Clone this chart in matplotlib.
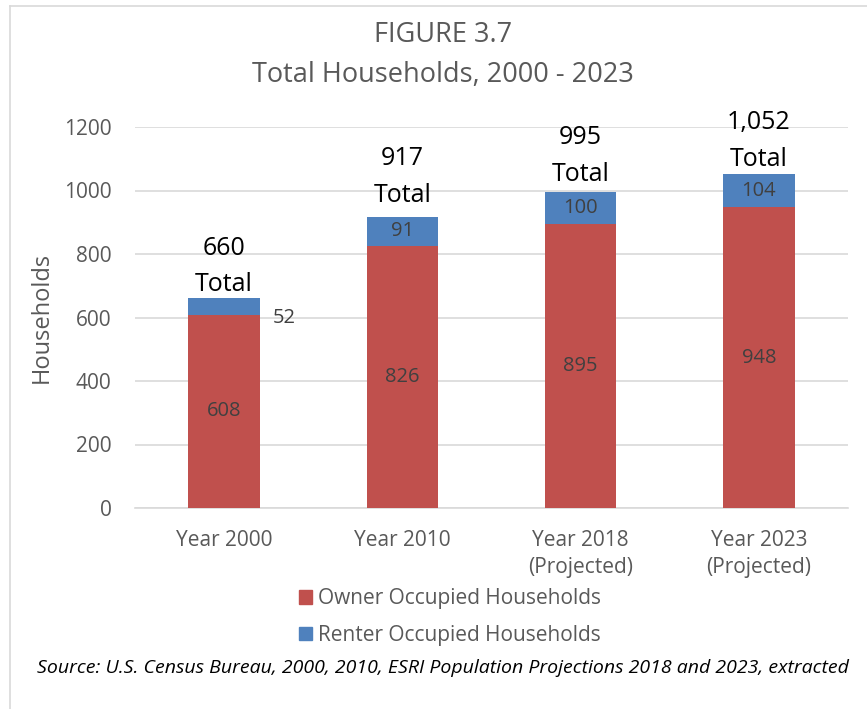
import numpy as np
import matplotlib.pyplot as plt
from matplotlib.patches import Patch

plt.rcParams['font.family'] = ['Open Sans', 'DejaVu Sans']

# data
years = ['Year 2000', 'Year 2010', 'Year 2018\n(Projected)', 'Year 2023\n(Projected)']
owner = [608, 826, 895, 948]
renter = [52, 91, 100, 104]
totals = ['660', '917', '995', '1,052']

# how far (pixels) each "Total" label sits above its bar, as placed in the original
total_gap = [32, 40, 36, 33]

red = '#C0504D'
blue = '#4F81BD'
grey = '#595959'
dark = '#404040'

fig = plt.figure(figsize=(8.67, 7.09), dpi=100)
ax = fig.add_axes([135 / 867, 1 - 508 / 709, 713 / 867, 381 / 709])

x = np.arange(len(years))
ax.bar(x, owner, width=0.4, color=red, zorder=3)
ax.bar(x, renter, width=0.4, bottom=owner, color=blue, zorder=3)

for i in range(len(years)):
    top = owner[i] + renter[i]
    ax.text(x[i], owner[i] / 2, str(owner[i]), ha='center', va='center',
            fontsize=14.5, color=dark, zorder=4)
    if i == 0:
        # thin segment -> label goes to the right of the bar
        ax.annotate(str(renter[i]), (x[i] + 0.2, top), xytext=(13, -20),
                    textcoords='offset pixels', ha='left', va='center',
                    fontsize=14.5, color=dark)
    else:
        ax.text(x[i], owner[i] + renter[i] / 2, str(renter[i]), ha='center',
                va='center', fontsize=14.5, color=dark, zorder=4)
    ax.annotate(totals[i] + '\nTotal', (x[i], top), xytext=(0, total_gap[i]),
                textcoords='offset pixels', ha='center', va='center',
                fontsize=18, color='black', linespacing=1.6)

ax.set_xlim(-0.5, 3.5)
ax.set_ylim(0, 1200)
ax.set_yticks(np.arange(0, 1201, 200))
ax.yaxis.grid(True, color='#D9D9D9', linewidth=1.2, zorder=0)
ax.set_xticks(x)
ax.set_xticklabels(years, fontsize=15, color=grey, linespacing=1.35)
ax.tick_params(axis='both', length=0, labelsize=15, labelcolor=grey)
ax.tick_params(axis='x', pad=16)
ax.tick_params(axis='y', pad=17)
for s in ['top', 'right', 'left']:
    ax.spines[s].set_visible(False)
ax.spines['bottom'].set_color('#D9D9D9')
ax.spines['bottom'].set_linewidth(1.2)
ax.set_ylabel('Households', fontsize=17, color=grey, labelpad=7)

fig.text(443 / 867, 1 - 35 / 709, 'FIGURE 3.7', ha='center', va='center',
         fontsize=19.5, color=grey)
fig.text(443 / 867, 1 - 75 / 709, 'Total Households, 2000 - 2023', ha='center',
         va='center', fontsize=19.5, color=grey)

handles = [Patch(color=red, label='Owner Occupied Households'),
           Patch(color=blue, label='Renter Occupied Households')]
fig.legend(handles=handles, loc='center', bbox_to_anchor=(450 / 867, 1 - 617 / 709),
           frameon=False, fontsize=15, labelcolor=grey, handlelength=0.65,
           handleheight=0.65, handletextpad=0.3, labelspacing=0.75)

fig.text(443 / 867, 1 - 668 / 709,
         'Source: U.S. Census Bureau, 2000, 2010, ESRI Population Projections 2018 and 2023, extracted',
         ha='center', va='center', fontsize=14, style='italic', color='black')

# chart border
fig.add_artist(plt.Line2D([10 / 867, 10 / 867], [0, 1 - 6 / 709], color='#D9D9D9', lw=1.2))
fig.add_artist(plt.Line2D([10 / 867, 1], [1 - 6 / 709, 1 - 6 / 709], color='#D9D9D9', lw=1.2))

fig.savefig('out.png', dpi=100)
